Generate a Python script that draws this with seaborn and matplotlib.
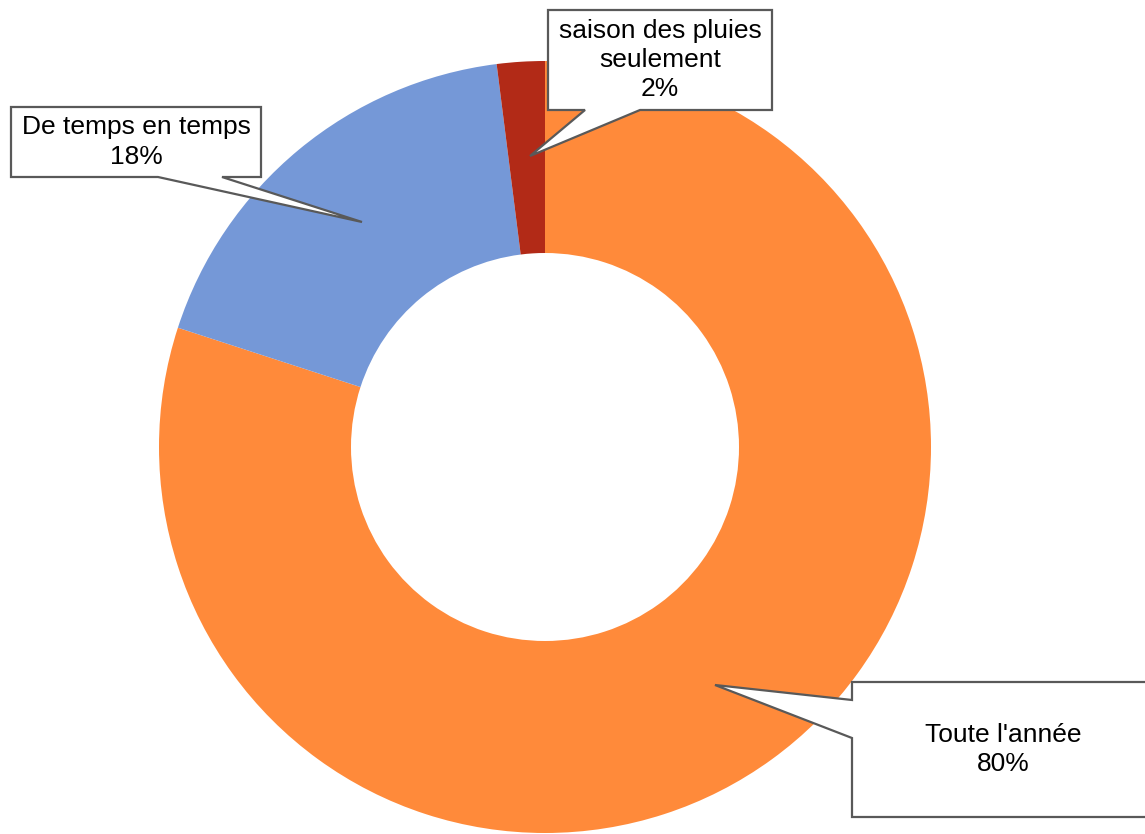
import matplotlib
matplotlib.use("Agg")
import matplotlib.pyplot as plt
from matplotlib.patches import Polygon
import seaborn as sns

# data
labels = ["Toute l'année", "De temps en temps", "saison des pluies\nseulement"]
values = [80, 18, 2]
colors = ["#FF8A3A", "#7598D7", "#B22A17"]

W, H = 1145, 834

sns.set_theme(style="white")
plt.rcParams['font.family'] = ['Liberation Sans', 'DejaVu Sans']

fig = plt.figure(figsize=(W / 100, H / 100), dpi=100)
ax = fig.add_axes([0, 0, 1, 1])

cx, cy, r = 545, H - 447, 386
ax.pie(values, colors=colors, startangle=90, counterclock=False,
       center=(cx, cy), radius=r, frame=True,
       wedgeprops=dict(width=r - 194, linewidth=0))
ax.set_xlim(0, W)
ax.set_ylim(0, H)
ax.set_aspect('equal')
ax.axis('off')


def callout(box, side, n0, n1, tip, text, tx_center=None):
    # box = (left, top, right, bottom) in pixels from top-left
    l, t, rr, b = box
    tx, ty = tip
    if side == 'bottom':
        pts = [(l, t), (rr, t), (rr, b), (n1, b), (tx, ty), (n0, b), (l, b)]
    else:  # left
        pts = [(l, t), (rr, t), (rr, b), (l, b), (l, n1), (tx, ty), (l, n0)]
    pts = [(x, H - y) for x, y in pts]
    ax.add_patch(Polygon(pts, closed=True, fc='white', ec='#595959', lw=1.6, zorder=5))
    xc = tx_center if tx_center is not None else (l + rr) / 2
    ax.text(xc, H - (t + b) / 2, text,
            ha='center', va='center', fontsize=19, color='black',
            linespacing=1.28, zorder=6)


pct = [f"{v}%" for v in values]
callout((548, 10, 772, 110), 'bottom', 585, 640, (530, 156), f"{labels[2]}\n{pct[2]}")
callout((11, 107, 261, 177), 'bottom', 158, 222, (362, 222), f"{labels[1]}\n{pct[1]}")
callout((852, 682, 1160, 817), 'left', 700, 738, (715, 685), f"{labels[0]}\n{pct[0]}",
        tx_center=1003)

plt.savefig("out.png", dpi=100)
